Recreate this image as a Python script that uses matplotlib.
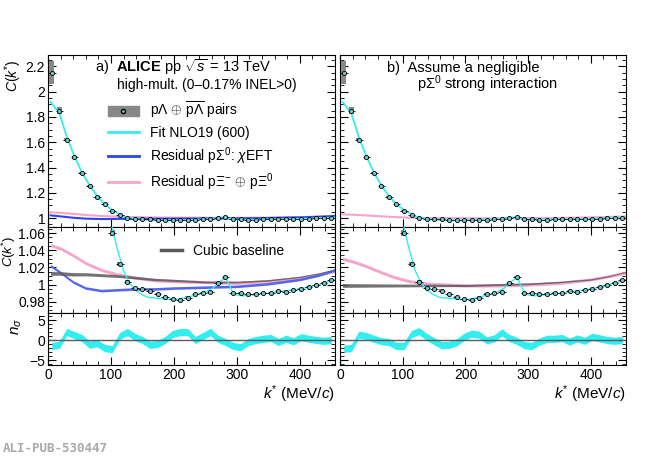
import matplotlib
matplotlib.use("Agg")
import matplotlib.pyplot as plt
from matplotlib.patches import Patch
from matplotlib.lines import Line2D
from matplotlib.ticker import MultipleLocator, FormatStrFormatter
import numpy as np

plt.rcParams['font.family'] = ['Liberation Sans', 'DejaVu Sans']
plt.rcParams['mathtext.fontset'] = 'custom'
plt.rcParams['mathtext.rm'] = 'Liberation Sans'
plt.rcParams['mathtext.it'] = 'Liberation Sans:italic'
plt.rcParams['mathtext.bf'] = 'Liberation Sans:bold'

# data points (k*, C)
k_data = [6, 18, 30, 42, 54, 66, 78, 90, 102, 114, 126, 138, 150, 162, 174, 186, 198, 210, 222, 234,
          246, 258, 270, 282, 294, 306, 318, 330, 342, 354, 366, 378, 390, 402, 414, 426, 438, 450]
c_data = [2.15, 1.85, 1.62, 1.48, 1.36, 1.255, 1.17, 1.11, 1.06, 1.024, 1.003, 0.996, 0.995, 0.993,
          0.989, 0.986, 0.983, 0.982, 0.985, 0.989, 0.990, 0.991, 1.002, 1.009, 0.990, 0.990, 0.989,
          0.989, 0.990, 0.990, 0.993, 0.992, 0.994, 0.995, 0.997, 0.999, 1.002, 1.005]
c_syst = [0.09, 0.025, 0.012, 0.01, 0.008, 0.006, 0.005, 0.004, 0.003, 0.0025, 0.002, 0.0015, 0.0015,
          0.0015, 0.0012, 0.0012, 0.0012, 0.0012, 0.0012, 0.0012, 0.0012, 0.0012, 0.0012, 0.0012, 0.0012,
          0.0012, 0.0012, 0.0012, 0.0012, 0.0012, 0.0012, 0.0012, 0.0012, 0.0012, 0.0012, 0.0012, 0.0012, 0.0012]

# fit curve samples
k_fit = [4, 10, 18, 30, 42, 54, 66, 78, 90, 100, 110, 120, 130, 140, 150, 160, 175, 190, 205, 220, 235,
         250, 262, 272, 282, 288, 294, 300, 310, 325, 340, 360, 380, 400, 420, 440, 456]
c_fit = [1.92, 1.88, 1.83, 1.64, 1.49, 1.36, 1.26, 1.175, 1.11, 1.072, 1.042, 1.016, 1.001, 0.993,
         0.988, 0.985, 0.984, 0.983, 0.983, 0.985, 0.988, 0.991, 0.996, 1.003, 1.008, 1.000, 0.990,
         0.988, 0.987, 0.988, 0.989, 0.991, 0.993, 0.995, 0.998, 1.002, 1.006]

# residual curves
k_res = [4, 20, 40, 60, 85, 110, 140, 170, 200, 250, 300, 350, 400, 430, 456]
blue_a = [1.022, 1.014, 1.003, 0.996, 0.993, 0.994, 0.995, 0.995, 0.996, 0.997, 0.998, 1.001, 1.006, 1.011, 1.017]
pink_a = [1.046, 1.042, 1.034, 1.025, 1.017, 1.012, 1.008, 1.005, 1.004, 1.003, 1.002, 1.004, 1.008, 1.012, 1.016]
pink_b = [1.030, 1.027, 1.022, 1.016, 1.009, 1.004, 1.001, 1.000, 0.999, 0.999, 1.000, 1.002, 1.006, 1.010, 1.014]
base_a = [1.013, 1.013, 1.012, 1.012, 1.011, 1.010, 1.008, 1.006, 1.005, 1.003, 1.003, 1.005, 1.009, 1.013, 1.018]
base_b = [0.999, 0.999, 0.999, 0.999, 0.999, 0.999, 0.999, 0.999, 0.999, 1.000, 1.001, 1.003, 1.006, 1.010, 1.015]

# n_sigma
k_ns = k_data
ns_a = [-1.5, -1.2, 2.0, 1.2, 0.5, -1.2, -0.8, -2.0, -2.3, 1.0, 2.0, 0.8, 0.0, -1.2, -1.0, 0.0, 1.5, 2.0,
        2.0, 0.0, 1.0, 2.0, 0.3, -0.5, -1.5, -1.8, -0.5, 0.0, 0.3, 0.5, -0.5, 0.3, -0.3, 0.7, 0.3, 0.0, -0.2, 0.0]
ns_b = [-2.2, -2.0, 1.3, 1.0, 0.3, -0.3, -0.5, -1.5, -1.5, 1.5, 2.2, 0.8, -0.3, -1.3, -1.2, -0.6, 0.8, 1.6,
        1.3, -0.1, 0.4, 1.9, 0.5, -0.2, -1.3, -1.5, -0.4, 0.3, 0.3, 0.5, -0.4, 0.4, -0.2, 0.8, 0.4, 0.0, -0.2, 0.0]

fig = plt.figure(figsize=(6.5, 4.59), dpi=100)
W, H = 650, 459
def ax_at(x0, x1, y0, y1):
    return fig.add_axes([x0 / W, 1 - y1 / H, (x1 - x0) / W, (y1 - y0) / H])

cols = [(48, 335), (340, 626)]
rows = [(55, 227), (227, 313), (313, 365)]
cyan = '#33eef0'
blue = '#2b45f0'
blue2 = '#5566ee'
pink = '#f7a3cc'
gray = '#5a5a5a'

for ci, (x0, x1) in enumerate(cols):
    a_top = ax_at(x0, x1, *rows[0])
    a_mid = ax_at(x0, x1, *rows[1])
    a_bot = ax_at(x0, x1, *rows[2])
    pink_c = pink_a if ci == 0 else pink_b
    base_c = base_a if ci == 0 else base_b
    ns = ns_a if ci == 0 else ns_b
    for ax in (a_top, a_mid):
        for k, c, s in zip(k_data, c_data, c_syst):
            ax.add_patch(plt.Rectangle((k - 4, c - s), 8, 2 * s, color='#888888', lw=0, zorder=3))
        ax.errorbar(k_data, c_data, xerr=6, fmt='o', ms=3, mfc='#6fc8c8', mec='black', mew=0.6,
                    ecolor='black', elinewidth=0.6, capsize=0, zorder=5, clip_on=True)
    a_top.plot(k_fit, c_fit, color=cyan, lw=1.3, zorder=4)
    a_top.plot(k_res, pink_c, color=pink, lw=1.5, zorder=2)
    if ci == 0:
        a_top.plot(k_res, blue_a, color=blue, lw=1.5, zorder=2)
    a_top.set_ylim(0.93, 2.29)
    a_top.yaxis.set_major_locator(MultipleLocator(0.2))
    a_top.yaxis.set_minor_locator(MultipleLocator(0.05))
    a_top.yaxis.set_major_formatter(FormatStrFormatter('%g'))
    a_mid.plot(k_fit, c_fit, color=cyan, lw=1.0, zorder=4)
    a_mid.fill_between(k_res, np.array(pink_c) - 0.0018, np.array(pink_c) + 0.0018, color=pink, lw=0, zorder=2)
    if ci == 0:
        a_mid.fill_between(k_res, np.array(blue_a) - 0.0015, np.array(blue_a) + 0.0015, color=blue2, lw=0, zorder=2)
    bw = np.linspace(0.0022, 0.0005, len(k_res))
    a_mid.fill_between(k_res, np.array(base_c) - bw, np.array(base_c) + bw, color=gray, alpha=0.85, lw=0, zorder=2.5)
    a_mid.set_ylim(0.967, 1.067)
    a_mid.yaxis.set_major_locator(MultipleLocator(0.02))
    a_mid.yaxis.set_minor_locator(MultipleLocator(0.005))
    a_mid.yaxis.set_major_formatter(FormatStrFormatter('%g'))
    ns_arr = np.array(ns)
    a_bot.fill_between(k_ns, ns_arr - 0.9, ns_arr + 0.9, color=cyan, lw=0)
    a_bot.axhline(0, color=gray, lw=1)
    a_bot.set_ylim(-6.25, 6.75)
    a_bot.yaxis.set_major_locator(MultipleLocator(5))
    a_bot.yaxis.set_minor_locator(MultipleLocator(1))
    for ax in (a_top, a_mid, a_bot):
        ax.set_xlim(0, 456)
        ax.xaxis.set_major_locator(MultipleLocator(100))
        ax.xaxis.set_minor_locator(MultipleLocator(20))
        ax.tick_params(which='both', direction='in', top=True, right=True, labelsize=10, pad=2)
        ax.tick_params(which='major', length=6)
        ax.tick_params(which='minor', length=3)
        if ci == 1:
            ax.tick_params(labelleft=False)
        if ax is not a_bot:
            ax.tick_params(labelbottom=False)
    if ci == 0:
        a_top.set_ylabel('$C(k^{*})$', fontsize=10)
        a_top.yaxis.set_label_coords(-0.085, 0.88)
        a_mid.set_ylabel('$C(k^{*})$', fontsize=9.5)
        a_mid.yaxis.set_label_coords(-0.105, 0.72)
        a_bot.set_ylabel(r'$n_{\sigma}$', fontsize=11)
        a_bot.yaxis.set_label_coords(-0.085, 0.75)
        a_top.text(0.165, 0.9, r'a)  $\mathbf{ALICE}$ pp $\sqrt{s}$ = 13 TeV', transform=a_top.transAxes, fontsize=10.5)
        a_top.text(0.24, 0.80, 'high-mult. (0–0.17% INEL>0)', transform=a_top.transAxes, fontsize=10)
        h = [(Patch(color='#888888'), Line2D([], [], marker='o', ls='', ms=3, mfc='#6fc8c8', mec='k')),
             Line2D([], [], color=cyan, lw=2), Line2D([], [], color=blue, lw=2), Line2D([], [], color=pink, lw=2)]
        labs = [r'p$\Lambda$ $\oplus$ $\overline{\mathrm{p}\Lambda}$ pairs', 'Fit NLO19 (600)',
                r'Residual p$\Sigma^{0}$: $\chi$EFT', r'Residual p$\Xi^{-}$ $\oplus$ p$\Xi^{0}$']
        a_top.legend(h, labs, loc='upper left', bbox_to_anchor=(0.19, 0.77), frameon=False, fontsize=10,
                     handlelength=2.2, labelspacing=0.35, borderaxespad=0)
        a_mid.legend([Line2D([], [], color=gray, lw=2.5)], ['Cubic baseline'], loc='upper left',
                     bbox_to_anchor=(0.35, 0.95), frameon=False, fontsize=10, handlelength=1.5)
    else:
        a_top.text(0.165, 0.9, r'b)  Assume a negligible', transform=a_top.transAxes, fontsize=10.5)
        a_top.text(0.27, 0.80, r'p$\Sigma^{0}$ strong interaction', transform=a_top.transAxes, fontsize=10.5)
    a_bot.set_xlabel('$k^{*}$ (MeV/$c$)', fontsize=11, loc='right', labelpad=1)

fig.text(0.005, 0.015, 'ALI-PUB-530447', family='DejaVu Sans Mono', fontweight='bold', color='#aaaaaa', fontsize=9)
fig.savefig('out.png', dpi=100)
